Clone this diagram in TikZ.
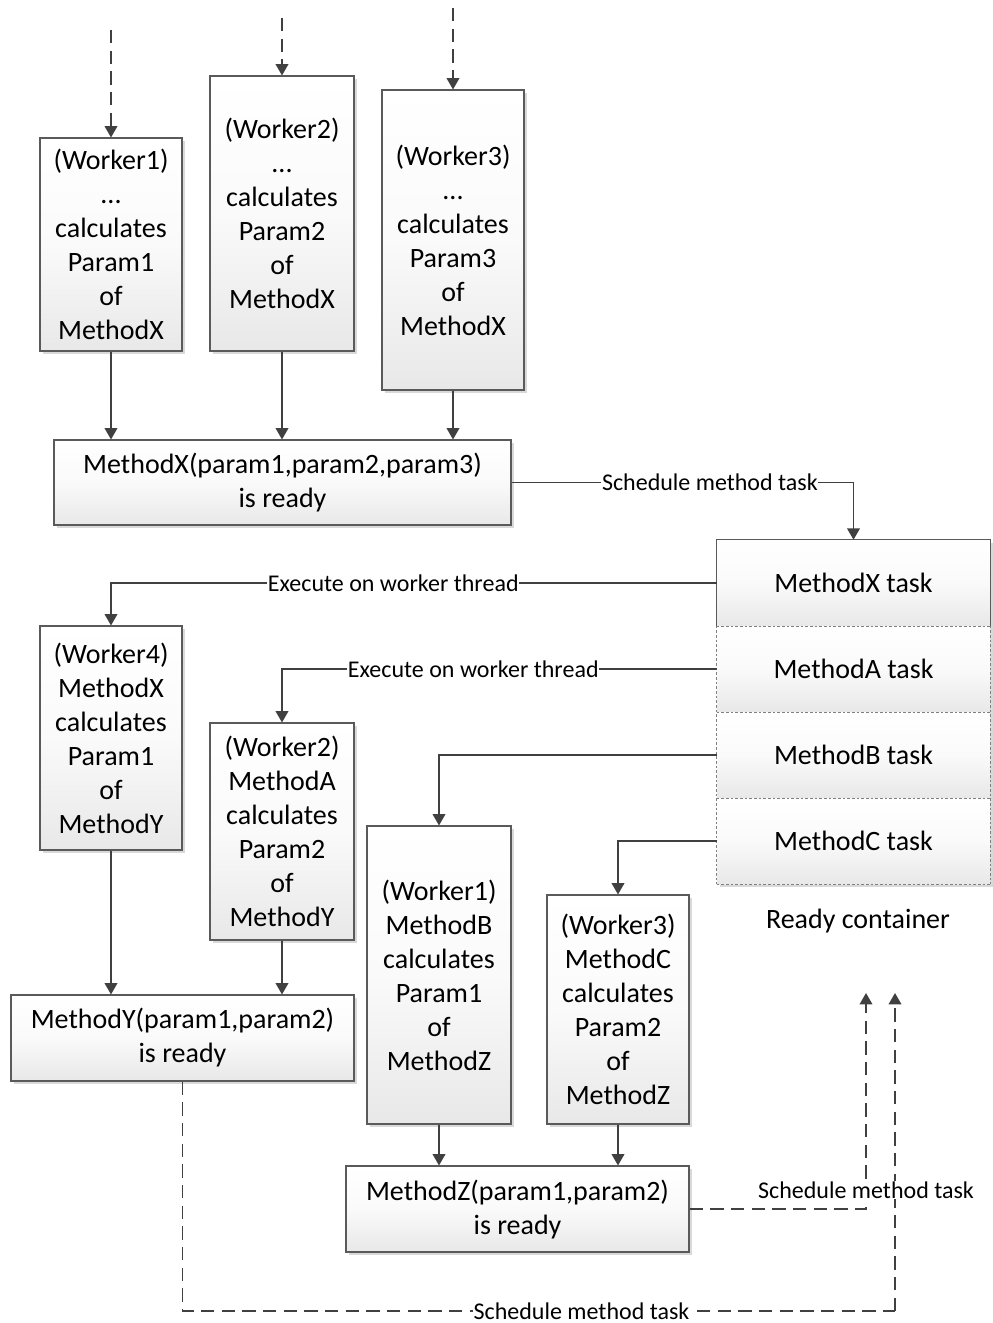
\documentclass[tikz,border=0pt]{standalone}
\usepackage{fontspec}
\setmainfont{Carlito}
\usetikzlibrary{arrows.meta,shadows}
\definecolor{linegray}{HTML}{404040}
\definecolor{edgegray}{HTML}{5A5A5A}
\definecolor{shadegray}{HTML}{E8E8E8}
\definecolor{midgray}{HTML}{FAFAFA}
\newcommand\boxfont{\fontsize{21}{25.5}\selectfont}
\newcommand\lblfont{\fontsize{18}{20}\selectfont}
\tikzset{
  box/.style 2 args={draw=edgegray, line width=0.8pt, top color=white, bottom color=shadegray,
    middle color=midgray,
    minimum width={#1*0.75pt}, minimum height={#2*0.75pt}, inner sep=0pt, align=center,
    font=\boxfont,
    drop shadow={shadow xshift=2.2pt, shadow yshift=-2.2pt, fill=black, opacity=0.15}},
  rowbox/.style={top color=white, bottom color=shadegray, middle color=midgray,
    minimum width={273*0.75pt}, minimum height={86*0.75pt}, inner sep=0pt, font=\boxfont},
  flow/.style={draw=linegray, line width=1.1pt, -{Triangle[length=8.5pt,width=9.5pt]}},
  dashflow/.style={flow, dash pattern=on 10pt off 5.5pt},
  plainline/.style={draw=linegray, line width=1.1pt},
  lbl/.style={fill=white, inner sep=0.5pt, font=\lblfont, text=black},
  rowedge/.style={draw=edgegray, line width=0.8pt},
  rowsep/.style={draw=gray, line width=0.6pt, dash pattern=on 2pt off 1.5pt},
}
\begin{document}
\begin{tikzpicture}[x=0.75pt,y=-0.75pt]
\useasboundingbox (0,0) rectangle (992,1323);

% workers computing the parameters of MethodX
\node[box={142}{213}] (w1) at (111,244.5) {(Worker1)\\...\\calculates\\Param1\\of\\MethodX};
\node[box={144}{275}] (w2) at (282,213.5) {(Worker2)\\...\\calculates\\Param2\\of\\MethodX};
\node[box={142}{300}] (w3) at (453,240) {(Worker3)\\...\\calculates\\Param3\\of\\MethodX};
\node[box={457}{85}] (mx) at (282.5,482.5) {MethodX(param1,param2,param3)\\is ready};

% ready container
\fill[black, opacity=0.15] (720,543) rectangle (993,887);
\node[rowbox] (rx) at (853.5,583) {MethodX task};
\node[rowbox] (ra) at (853.5,669) {MethodA task};
\node[rowbox] (rb) at (853.5,755) {MethodB task};
\node[rowbox] (rc) at (853.5,841) {MethodC task};
\draw[rowedge] (rx.south west) -- (rx.north west) -- (rx.north east) -- (rx.south east);
\draw[rowsep] (rx.south west) -- (rx.south east);
\draw[rowsep] (ra.south west) -- (ra.south east);
\draw[rowsep] (rb.south west) -- (rb.south east);
\draw[rowsep] (rc.south west) -- (rc.south east);
\draw[rowsep] (ra.north west) -- (rc.south west);
\draw[rowsep] (ra.north east) -- (rc.south east);
\node[font=\boxfont] (rlabel) at (858,921) {Ready container};

% second round of workers
\node[box={142}{224}] (w4) at (111,738) {(Worker4)\\MethodX\\calculates\\Param1\\of\\MethodY};
\node[box={144}{217}] (w2b) at (282,831.5) {(Worker2)\\MethodA\\calculates\\Param2\\of\\MethodY};
\node[box={144}{298}] (w1b) at (439,975) {(Worker1)\\MethodB\\calculates\\Param1\\of\\MethodZ};
\node[box={142}{229}] (w3b) at (618,1009.5) {(Worker3)\\MethodC\\calculates\\Param2\\of\\MethodZ};
\node[box={343}{86}] (my) at (182.5,1038) {MethodY(param1,param2)\\is ready};
\node[box={343}{86}] (mz) at (517.5,1209) {MethodZ(param1,param2)\\is ready};

% incoming work
\coordinate (t1) at (111,30);
\coordinate (t2) at (282,18);
\coordinate (t3) at (453,8);
\draw[dashflow] (t1) -- (w1.north);
\draw[dashflow] (t2) -- (w2.north);
\draw[dashflow] (t3) -- (w3.north);

% parameters delivered
\draw[flow] (w1.south) -- (w1.south |- mx.north);
\draw[flow] (w2.south) -- (w2.south |- mx.north);
\draw[flow] (w3.south) -- (w3.south |- mx.north);
\draw[flow] (w4.south) -- (w4.south |- my.north);
\draw[flow] (w2b.south) -- (w2b.south |- my.north);
\draw[flow] (w1b.south) -- (w1b.south |- mz.north);
\draw[flow] (w3b.south) -- (w3b.south |- mz.north);

% scheduling and execution
\draw[flow] (mx.east) -| node[lbl, pos=0.29] {Schedule method task} (rx.north);
\draw[flow] (rx.west) -| node[lbl, pos=0.267] {Execute on worker thread} (w4.north);
\draw[flow] (ra.west) -| node[lbl, pos=0.28] {Execute on worker thread} (w2b.north);
\draw[flow] (rb.west) -| (w1b.north);
\draw[flow] (rc.west) -| (w3b.north);

% rescheduling of the ready methods
\coordinate (s1) at (866,993);
\coordinate (s2) at (895,993);
\coordinate (s2c) at (895,1311);
\draw[plainline, dash pattern=on 10pt off 5.5pt] (my.south) |- node[lbl, pos=0.78] {Schedule method task} (s2c);
\draw[dashflow] (s2c) -- (s2);
\draw[dashflow] (mz.east) -| node[lbl, pos=0.544] {Schedule method task} (s1);
\end{tikzpicture}
\end{document}
